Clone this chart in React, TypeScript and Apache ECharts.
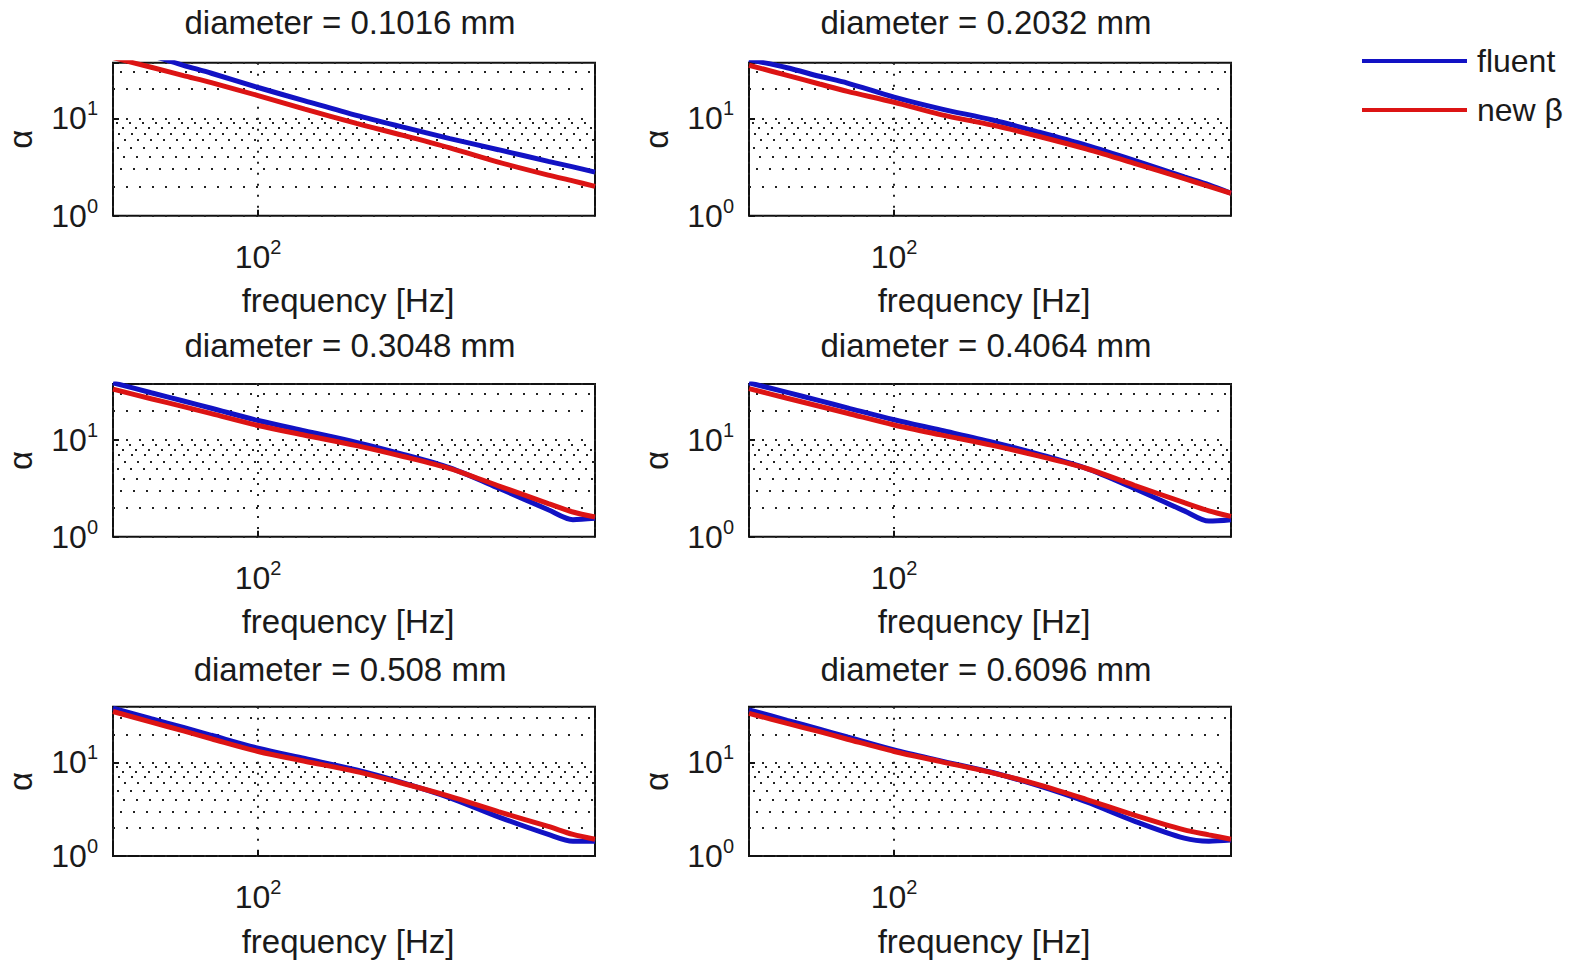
import React, { useEffect, useRef } from 'react';
import * as echarts from 'echarts';

// ---- data ----
const frequency = [50, 60, 70, 80, 100, 125, 160, 200, 250, 315, 400, 450, 500];
const diameters = ['0.1016', '0.2032', '0.3048', '0.4064', '0.508', '0.6096'];
const seriesNames = ['fluent', 'new β'];

const fluent1 = [56, 44, 35, 29, 20.7, 15.1, 10.7, 8.1, 6.19, 4.76, 3.61, 3.17, 2.8];
const newBeta1 = [42, 33.4, 27.4, 23.2, 17.1, 12.4, 8.85, 6.68, 4.97, 3.55, 2.61, 2.28, 2.0];
const fluent2 = [40, 33, 27, 23, 16.5, 12.5, 9.6, 7.2, 5.3, 3.7, 2.5, 2.07, 1.7];
const newBeta2 = [35, 27.6, 22.5, 18.9, 14.6, 10.9, 8.5, 6.5, 4.85, 3.45, 2.4, 2.0, 1.7];
const fluent3 = [39, 30.8, 25.3, 21.3, 15.9, 12.4, 9.45, 7.1, 5.14, 3.19, 1.9, 1.5, 1.55];
const newBeta3 = [33.6, 26.7, 22.1, 18.7, 14.1, 11.2, 8.74, 6.74, 5.06, 3.36, 2.2, 1.8, 1.6];
const fluent4 = [39, 31, 25.5, 21.5, 16.2, 12.6, 9.5, 7.1, 5.1, 3.15, 1.85, 1.45, 1.5];
const newBeta4 = [34, 27, 22.3, 18.9, 14.3, 11.3, 8.8, 6.8, 5.1, 3.4, 2.25, 1.85, 1.62];
const fluent5 = [38, 29.3, 23.6, 19.5, 14.2, 11.0, 8.3, 6.05, 4.19, 2.62, 1.7, 1.44, 1.44];
const newBeta5 = [35, 27, 21.7, 17.9, 13.1, 10.3, 7.97, 5.95, 4.33, 2.98, 2.07, 1.7, 1.51];
const fluent6 = [36.5, 28.2, 22.7, 18.7, 13.6, 10.4, 7.8, 5.6, 3.8, 2.36, 1.55, 1.44, 1.48];
const newBeta6 = [33.5, 26.1, 21.3, 17.7, 13.1, 10.2, 7.74, 5.76, 4.04, 2.73, 1.9, 1.68, 1.51];

const fluentData = [fluent1, fluent2, fluent3, fluent4, fluent5, fluent6];
const newBetaData = [newBeta1, newBeta2, newBeta3, newBeta4, newBeta5, newBeta6];

const xMin = 50;
const xMax = 500;
const yMin = 1;
const yMaxByRow = [37.2, 37.9, 39.4];
const minorGridValues = [2, 3, 4, 5, 6, 7, 8, 9, 20, 30];

// ---- styling ----
const FONT = '"Liberation Sans", Arial, Helvetica, sans-serif';
const TEXT = '#1a1a1a';
const BLUE = '#1212c4';
const RED = '#dc1414';
const colLeft = [113, 749];
const rowTop = [62.7, 384, 706.7];
const rowHeight = [153, 152.7, 150];
const plotWidth = 482;
const titleCenter = [350, 986];
const titleTop = [2, 325.5, 649];
const dashOffsets = [0, 6, 3, 9, 2, 8, 4, 10, 0, 6];

const dotted = { type: [2, 11] as any, color: '#222', width: 2 };

const near = (v: number, p: number) => Math.abs(Math.log10(v) - p) < 1e-6;

const richTick = {
  b: { fontSize: 32, fontFamily: FONT, color: TEXT, lineHeight: 40 },
  s: { fontSize: 20, fontFamily: FONT, color: TEXT, lineHeight: 12, verticalAlign: 'top' },
};

export default function App() {
  const ref = useRef<HTMLDivElement>(null);
  useEffect(() => {
    if (!ref.current) return;
    const chart = echarts.init(ref.current, undefined, { renderer: 'svg' });
    const grids: any[] = [];
    const xAxes: any[] = [];
    const yAxes: any[] = [];
    const titles: any[] = [];
    const series: any[] = [];
    diameters.forEach((d, i) => {
      const row = Math.floor(i / 2);
      const col = i % 2;
      grids.push({
        left: colLeft[col],
        top: rowTop[row],
        width: plotWidth,
        height: rowHeight[row],
        show: true,
        borderColor: '#111',
        borderWidth: 2,
        backgroundColor: 'transparent',
      });
      titles.push({
        text: `diameter = ${d} mm`,
        left: titleCenter[col],
        top: titleTop[row],
        textAlign: 'center',
        padding: 0,
        textStyle: { fontSize: 33, fontWeight: 'normal', fontFamily: FONT, color: TEXT, lineHeight: 40 },
      });
      xAxes.push({
        type: 'log',
        logBase: 10,
        gridIndex: i,
        min: xMin,
        max: xMax,
        axisLine: { show: false },
        axisTick: { show: true, inside: true, length: 6, lineStyle: { color: '#111', width: 2 } },
        axisLabel: {
          margin: 21,
          formatter: (v: number) => (near(v, 2) ? '{b|10}{s|2}' : ''),
          rich: richTick,
        },
        splitLine: { show: true, lineStyle: { ...dotted, type: [2, 9] } },
        name: 'frequency [Hz]',
        nameLocation: 'middle',
        nameGap: 65,
        nameTextStyle: { fontSize: 33, fontFamily: FONT, color: TEXT, lineHeight: 40, padding: [0, 12, 0, 0] },
      });
      yAxes.push({
        type: 'log',
        logBase: 10,
        gridIndex: i,
        min: yMin,
        max: yMaxByRow[row],
        axisLine: { show: false },
        axisTick: { show: true, inside: true, length: 6, lineStyle: { color: '#111', width: 2 } },
        axisLabel: {
          margin: 15,
          formatter: (v: number) => (near(v, 0) ? '{b|10}{s|0}' : near(v, 1) ? '{b|10}{s|1}' : ''),
          rich: richTick,
        },
        splitLine: { show: true, lineStyle: dotted },
        name: 'α',
        nameLocation: 'middle',
        nameRotate: 90,
        nameGap: 76,
        nameTextStyle: { fontSize: 33, fontFamily: FONT, color: TEXT },
      });
      series.push({
        type: 'line',
        name: seriesNames[0],
        xAxisIndex: i,
        yAxisIndex: i,
        data: frequency.map((f, k) => [f, fluentData[i][k]]),
        showSymbol: false,
        symbol: 'none',
        smooth: 0.3,
        clip: true,
        lineStyle: { color: BLUE, width: 5 },
        itemStyle: { color: BLUE },
        z: 3,
        markLine: {
          silent: true,
          symbol: ['none', 'none'],
          label: { show: false },
          z: 1,
          lineStyle: dotted,
          emphasis: { disabled: true },
          data: minorGridValues.map((v, k) => ({
            yAxis: v,
            lineStyle: { ...dotted, dashOffset: dashOffsets[k] },
          })),
        },
      });
      series.push({
        type: 'line',
        name: seriesNames[1],
        xAxisIndex: i,
        yAxisIndex: i,
        data: frequency.map((f, k) => [f, newBetaData[i][k]]),
        showSymbol: false,
        symbol: 'none',
        smooth: 0.3,
        clip: true,
        lineStyle: { color: RED, width: 5 },
        itemStyle: { color: RED },
        z: 4,
      });
    });
    chart.setOption({
      animation: false,
      backgroundColor: '#ffffff',
      title: titles,
      grid: grids,
      xAxis: xAxes,
      yAxis: yAxes,
      legend: {
        data: seriesNames,
        orient: 'vertical',
        left: 1362,
        top: 41,
        icon: 'rect',
        itemWidth: 105,
        itemHeight: 4,
        itemGap: 9,
        padding: 0,
        itemStyle: { borderWidth: 0 },
        textStyle: { fontSize: 32, fontFamily: FONT, color: TEXT, lineHeight: 40, padding: [0, 0, 0, 5] },
      },
      series,
    });
    return () => chart.dispose();
  }, []);
  return <div ref={ref} style={{ position: 'absolute', left: 0, top: 0, width: 1575, height: 962 }} />;
}
